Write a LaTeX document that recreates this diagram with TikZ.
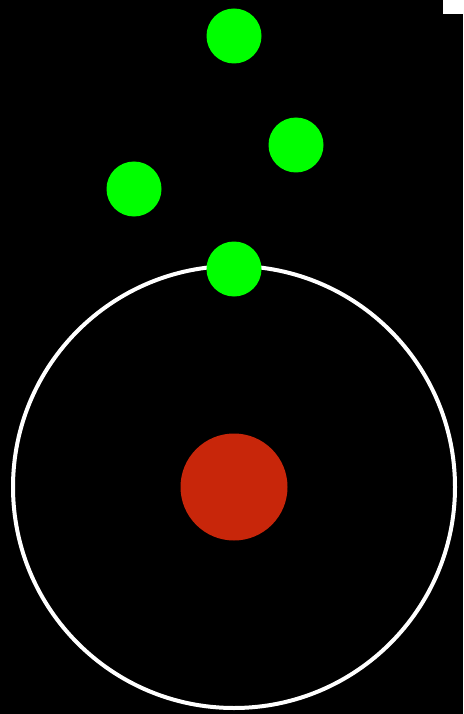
\documentclass[tikz,border=0pt]{standalone}
\definecolor{ball}{HTML}{00FF00}
\definecolor{core}{HTML}{C8260A}
\begin{document}
\begin{tikzpicture}[x=1pt,y=-1pt,
  electron/.style={circle,fill=ball,draw=none,minimum size=55pt,inner sep=0pt},
  nucleus/.style={circle,fill=core,draw=none,minimum size=107pt,inner sep=0pt},
  orbit/.style={circle,draw=white,line width=4pt,minimum size=442pt,inner sep=0pt}]
\fill[black] (0,0) rectangle (463,714);
\useasboundingbox (0,0) rectangle (463,714);
\fill[white] (443,0) rectangle (463,14);
\node[orbit] (shell) at (234,487) {};
\node[nucleus] (n) at (234,487) {};
\node[electron] (e1) at (234,36) {};
\node[electron] (e2) at (296,145) {};
\node[electron] (e3) at (134,189) {};
\node[electron] (e4) at (234,269) {};
\end{tikzpicture}
\end{document}
